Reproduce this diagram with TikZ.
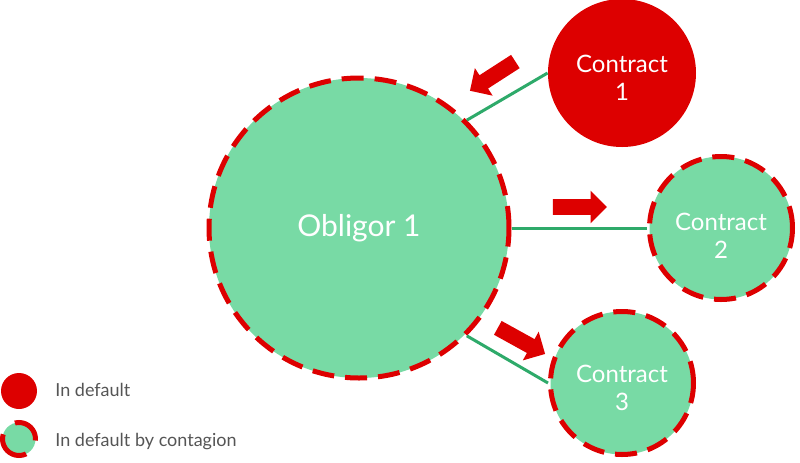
\documentclass[tikz,border=0pt]{standalone}
\usepackage{fontspec}
\setmainfont{Lato}
\usetikzlibrary{shapes.arrows}
\definecolor{defred}{HTML}{DD0000}
\definecolor{contgreen}{HTML}{78DAA5}
\definecolor{linkgreen}{HTML}{2EAA6A}
\definecolor{legendgray}{HTML}{555555}

\begin{document}
\begin{tikzpicture}[x=0.5pt,y=-0.5pt,
  indefault/.style={circle,fill=defred,text=white,inner sep=0pt},
  bycontagion/.style={circle,fill=contgreen,draw=defred,line width=2.5pt,
    dash pattern=on 11pt off 5.5pt,text=white,inner sep=0pt},
  ctext/.style n args={2}{label={[text=white,align=center,font=\fontsize{12}{14}\selectfont,yshift=#2]center:Contract\\#1}},
  link/.style={draw=linkgreen,line width=1.5pt},
  push/.style={single arrow,fill=defred,inner sep=3.75pt,
    single arrow head extend=4.25pt,minimum height=27pt},
  legtext/.style={anchor=base west,inner sep=0pt,text=legendgray,font=\fontsize{9}{11}\selectfont}]
\useasboundingbox (0,0) rectangle (800,462);
% obligor and its contracts
\node[bycontagion,minimum size=150pt,font=\fontsize{15}{18}\selectfont] (ob) at (359,228) {Obligor 1};
\node[indefault,minimum size=74pt,ctext={1}{-2.5pt}] (c1) at (622,73) {};
\node[bycontagion,minimum size=71.5pt,ctext={2}{-4pt}] (c2) at (721,228) {};
\node[bycontagion,minimum size=71.5pt,ctext={3}{-2.5pt}] (c3) at (622,383) {};
\draw[link] (ob.45) -- (c1.west);
\draw[link] (ob.east) -- (c2.west);
\draw[link] (ob.-45) -- (c3.west);
% direction of default
\node[push,rotate=212.8] (p1) at (496,74) {};
\node[push] (p2) at (576,207) {};
\node[push,rotate=-28.9] (p3) at (518,339) {};
% legend
\node[indefault,minimum size=18pt] (l1) at (19,391) {};
\node[bycontagion,minimum size=16.5pt,dash pattern=on 19pt off 8.5pt,dash phase=4pt] (l2) at (19,439) {};
\node[legtext] (t1) at (55,396) {In default};
\node[legtext] (t2) at (55,446) {In default by contagion};
\end{tikzpicture}
\end{document}
